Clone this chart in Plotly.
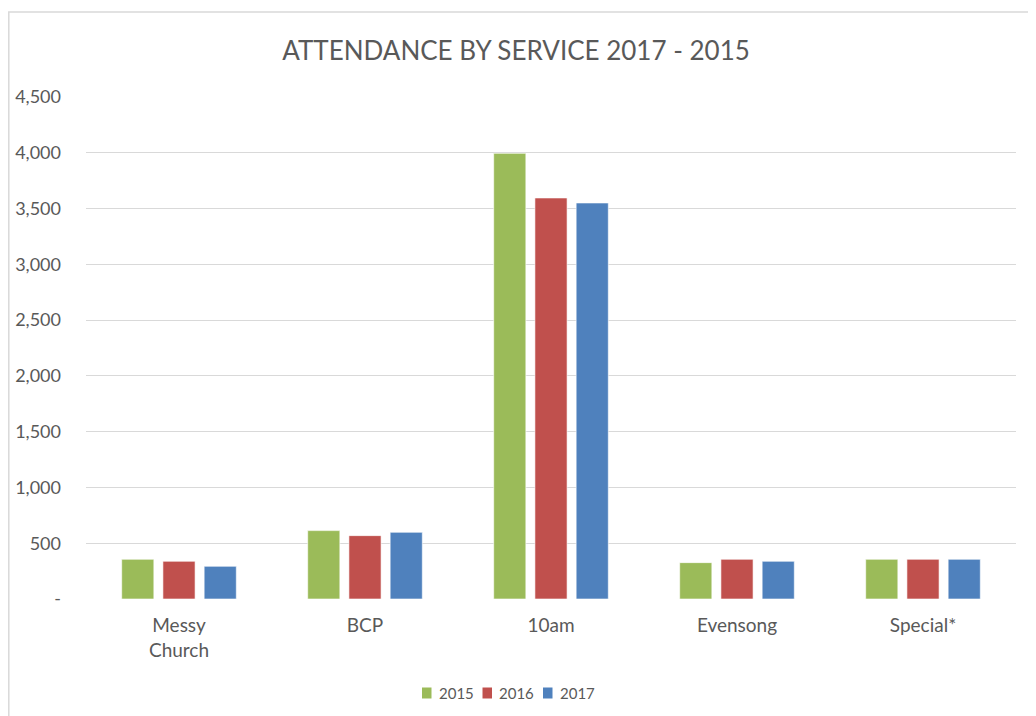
import plotly.graph_objects as go

categories = ["Messy<br>Church", "BCP", "10am", "Evensong", "Special*"]
years = ["2015", "2016", "2017"]
values_2015 = [356, 613, 3995, 326, 356]
values_2016 = [338, 568, 3595, 356, 356]
values_2017 = [293, 598, 3550, 338, 356]
colors = ["#9BBB59", "#C0504D", "#4F81BD"]
tick_vals = [0, 500, 1000, 1500, 2000, 2500, 3000, 3500, 4000, 4500]
tick_text = ["-", "500", "1,000", "1,500", "2,000", "2,500", "3,000", "3,500", "4,000", "4,500"]

FONT = "Lato"
TEXT = "#595959"

# page body has an 8px margin; the figure div starts at page (8, 8)
W, H = 1028, 708
ML, MR, MT, MB = 78, 20, 89, 117
PW, PH = W - ML - MR, H - MT - MB


def px(page_x):
    return (page_x - 8 - ML) / PW


def py(page_y):
    return (H - MB + 8 - page_y) / PH


fig = go.Figure()
for y, vals, c in zip(years, [values_2015, values_2016, values_2017], colors):
    fig.add_trace(go.Bar(x=categories, y=vals, name=y,
                         marker=dict(color=c, line=dict(color="rgba(255,255,255,0.6)", width=1))))

fig.update_layout(
    width=W, height=H,
    margin=dict(l=ML, r=MR, t=MT, b=MB, autoexpand=False),
    paper_bgcolor="white", plot_bgcolor="white",
    font=dict(family=FONT, color=TEXT, size=17),
    title=dict(text="ATTENDANCE BY SERVICE 2017 - 2015", x=(516 - 8) / W, xref="container",
               xanchor="center", y=1 - 43 / H, yanchor="middle", yref="container",
               font=dict(family=FONT, size=26, color=TEXT)),
    barmode="group", bargap=0.335, bargroupgap=0.22,
    showlegend=False,
    xaxis=dict(showline=False, ticks="", ticklabelstandoff=13, automargin=False,
               tickfont=dict(size=19, color=TEXT)),
    yaxis=dict(range=[0, 4500], tickvals=tick_vals, ticktext=tick_text, showgrid=True,
               gridcolor="#D9D9D9", gridwidth=1, zeroline=False, showline=False, automargin=False,
               ticks="", ticklabelstandoff=24, tickfont=dict(size=18, color=TEXT)),
)

# chart-area border
fig.add_shape(type="rect", xref="paper", yref="paper", x0=px(8.8), x1=1.2, y0=-0.5, y1=py(12),
              line=dict(color="#D9D9D9", width=1.5), fillcolor="rgba(0,0,0,0)", layer="below")

# legend (Excel-style compact spacing)
step = 60.5
for i, (yr, c) in enumerate(zip(years, colors)):
    x0 = 422 + i * step
    fig.add_shape(type="rect", xref="paper", yref="paper", x0=px(x0), x1=px(x0 + 9.5),
                  y0=py(698.5), y1=py(687.5), line=dict(width=0), fillcolor=c)
    fig.add_annotation(text=yr, xref="paper", yref="paper", x=px(x0 + 14.5), y=py(693),
                       xanchor="left", yanchor="middle", showarrow=False,
                       font=dict(family=FONT, size=15, color=TEXT))

fig.write_html("out.html")
